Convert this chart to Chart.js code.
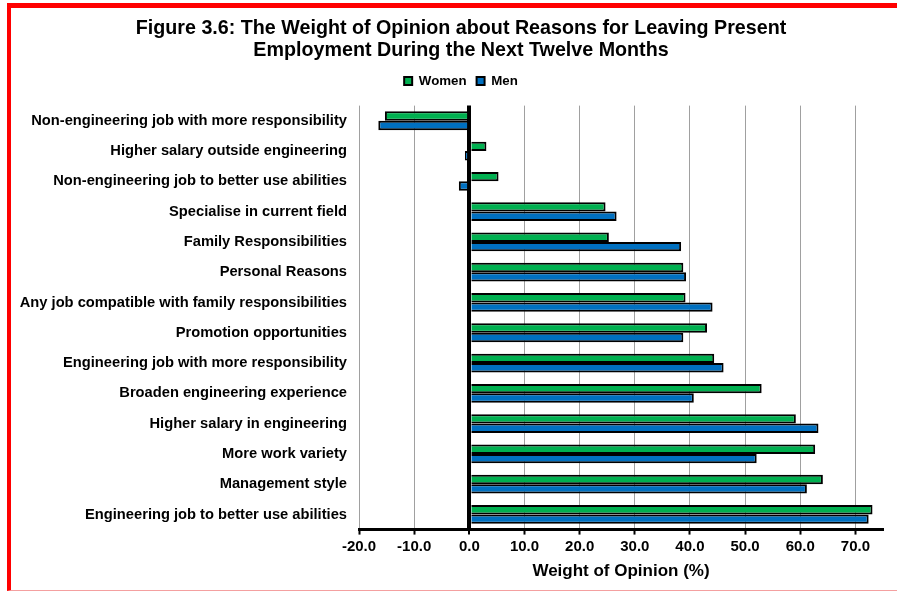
<!DOCTYPE html>
<html>
<head>
<meta charset="utf-8">
<script src="https://cdn.jsdelivr.net/npm/chart.js@4/dist/chart.umd.min.js"></script>
<style>
  html, body { margin: 0; padding: 0; background: #fff; overflow: hidden; }
  body { width: 897px; height: 592px; position: relative; }
  #frame {
    position: absolute; left: 7px; top: 3px;
    width: 900px; height: 582px;
    border-left: 4px solid #ff0000;
    border-top: 5px solid #ff0000;
    border-bottom: 1px solid #f4a0a0;
  }
  canvas { display: block; }
</style>
</head>
<body>
<div id="frame"><canvas id="myChart" width="900" height="582"></canvas></div>
<script>
// reasons, top to bottom as in the figure
const reasons = [
  'Non-engineering job with more responsibility',
  'Higher salary outside engineering',
  'Non-engineering job to better use abilities',
  'Specialise in current field',
  'Family Responsibilities',
  'Personal Reasons',
  'Any job compatible with family responsibilities',
  'Promotion opportunities',
  'Engineering job with more responsibility',
  'Broaden engineering experience',
  'Higher salary in engineering',
  'More work variety',
  'Management style',
  'Engineering job to better use abilities'
];

const women = [-15.3, 3.1, 5.3, 24.7, 25.3, 38.8, 39.2, 43.1, 44.4, 53.0, 59.2, 62.7, 64.1, 73.1];
const men   = [-16.5, -0.8, -1.9, 26.7, 38.4, 39.3, 44.1, 38.8, 46.1, 40.7, 63.3, 52.1, 61.2, 72.4];

const xMin = -20;
const xMax = 75;
const xStep = 10;

const font = 'Liberation Sans, Arial, sans-serif';

// more room under the legend, and centre title + legend on the whole frame
const headerFix = {
  id: 'headerFix',
  beforeInit(chart) {
    const fit = chart.legend.fit;
    chart.legend.fit = function () {
      fit.bind(chart.legend)();
      this.height += 8;
    };
  },
  afterLayout(chart) {
    [chart.titleBlock, chart.legend].forEach(function (b) {
      b.left += 14;
      b.right += 14;
    });
  }
};

let ctx = document.getElementById('myChart').getContext('2d');

const myChart = new Chart(ctx, {
  type: 'bar',
  data: {
    labels: reasons,
    datasets: [
      {
        label: 'Women',
        data: women,
        backgroundColor: '#00b050',
        borderColor: '#000',
        borderWidth: 2
      },
      {
        label: 'Men',
        data: men,
        backgroundColor: '#0070c0',
        borderColor: '#000',
        borderWidth: 2
      }
    ]
  },
  options: {
    indexAxis: 'y',
    responsive: false,
    animation: false,
    devicePixelRatio: 1,
    categoryPercentage: 0.62,
    barPercentage: 1.0,
    layout: { padding: { left: 0, right: 28, top: 0, bottom: 4 } },
    plugins: {
      title: {
        display: true,
        text: ['Figure 3.6: The Weight of Opinion about Reasons for Leaving Present',
               'Employment During the Next Twelve Months'],
        color: '#000',
        font: { family: font, size: 19.7, weight: 'bold', lineHeight: 1.15 },
        padding: { top: 9, bottom: 2 }
      },
      legend: {
        display: true,
        position: 'top',
        labels: {
          color: '#000',
          font: { family: font, size: 13.3, weight: 'bold' },
          boxWidth: 8,
          boxHeight: 8,
          padding: 10,
          useBorderRadius: false
        }
      },
      tooltip: { enabled: false }
    },
    scales: {
      x: {
        type: 'linear',
        min: xMin,
        max: xMax,
        ticks: {
          stepSize: xStep,
          includeBounds: false,
          color: '#000',
          padding: 3,
          font: { family: font, size: 15, weight: 'bold' },
          callback: (v) => v.toFixed(1)
        },
        grid: {
          color: (c) => (c.tick && c.tick.value === 0 ? '#000' : '#a0a0a0'),
          lineWidth: (c) => (c.tick && c.tick.value === 0 ? 4 : 1),
          drawTicks: true,
          tickLength: 5,
          tickColor: '#000',
          tickWidth: 2
        },
        border: { display: true, color: '#000', width: 3 },
        title: {
          display: true,
          text: 'Weight of Opinion (%)',
          color: '#000',
          font: { family: font, size: 17, weight: 'bold' },
          padding: { top: 3, bottom: 4 }
        }
      },
      y: {
        ticks: {
          color: '#000',
          padding: 12,
          autoSkip: false,
          font: { family: font, size: 14.7, weight: 'bold' }
        },
        grid: { display: false, drawTicks: false },
        border: { display: false },
        afterFit: (s) => { s.width = 348; }
      }
    }
  },
  plugins: [headerFix]
});
</script>
</body>
</html>
